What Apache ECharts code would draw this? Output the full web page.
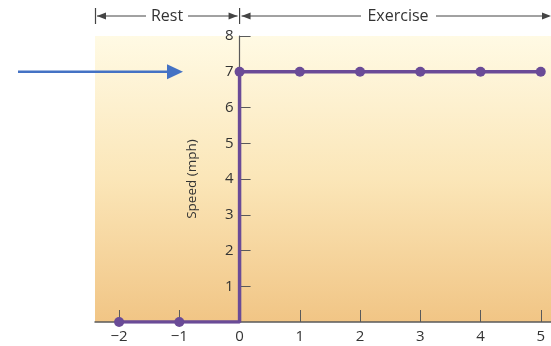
<!DOCTYPE html>
<html>
<head>
<meta charset="utf-8">
<script src="https://cdn.jsdelivr.net/npm/echarts@6/dist/echarts.min.js"></script>
<style>
  html, body { margin: 0; padding: 0; background: #ffffff; }
  #chart { width: 551px; height: 346px; }
</style>
</head>
<body>
<div id="chart"></div>
<script>
// Treadmill speed over time: rest period, then exercise at constant speed
const timeMin  = [-2, -1, 0, 0, 1, 2, 3, 4, 5];
const speedMph = [ 0,  0, 0, 7, 7, 7, 7, 7, 7];
const xTicks = [-2, -1, 0, 1, 2, 3, 4, 5];
const yTicks = [1, 2, 3, 4, 5, 6, 7, 8];
const phaseLabels = ['Rest', 'Exercise'];
const targetSpeed = 7;

const FONT = '"Open Sans", "DejaVu Sans", sans-serif';
const TEXT = '#333333';
const AXIS = '#5a5a5a';
const PURPLE = '#6a4b97';
const GRID_LEFT = 95;

const chart = echarts.init(document.getElementById('chart'), null, { renderer: 'canvas' });

// the corner point where speed jumps from 0 to 7 has no marker
const seriesData = timeMin.map((t, i) => {
  const item = { value: [t, speedMph[i]] };
  if (i === 2) item.symbol = 'none';
  return item;
});

const minus = v => String(v).replace('-', '\u2212');

chart.setOption({
  animation: false,
  grid: {
    left: GRID_LEFT, right: 0, top: 36, bottom: 24,
    show: true, borderWidth: 0,
    backgroundColor: new echarts.graphic.LinearGradient(0, 0, 0, 1, [
      { offset: 0, color: '#fffae4' },
      { offset: 0.5, color: '#fbe6b8' },
      { offset: 1, color: '#f1c585' }
    ])
  },
  xAxis: {
    type: 'value', min: -2.4, max: 5.17,
    splitLine: { show: false },
    axisLine: { onZero: false, lineStyle: { color: AXIS, width: 1.5 } },
    axisTick: { inside: true, length: 12, customValues: xTicks, lineStyle: { color: AXIS, width: 1 } },
    axisLabel: {
      customValues: xTicks, formatter: minus, margin: 7,
      color: TEXT, fontSize: 15, fontFamily: FONT
    }
  },
  yAxis: {
    type: 'value', min: 0, max: 8,
    splitLine: { show: false },
    name: 'Speed (mph)', nameLocation: 'middle', nameRotate: 90, nameGap: 40,
    nameTextStyle: { color: TEXT, fontSize: 13.5, fontFamily: FONT },
    axisLine: { onZero: false, lineStyle: { color: AXIS, width: 1.2 } },
    axisTick: { inside: true, length: 11, customValues: yTicks, lineStyle: { color: AXIS, width: 1 } },
    axisLabel: {
      customValues: yTicks, margin: 6,
      color: TEXT, fontSize: 15, fontFamily: FONT
    }
  },
  series: [{
    type: 'line',
    data: seriesData,
    symbol: 'circle', symbolSize: 10,
    showAllSymbol: true,
    lineStyle: { color: PURPLE, width: 3.5 },
    itemStyle: { color: PURPLE },
    z: 5
  }]
});

// place the speed axis on time = 0
const x0 = chart.convertToPixel({ xAxisIndex: 0 }, 0);
chart.setOption({ yAxis: { offset: -(x0 - GRID_LEFT) } });

// Annotations: phase brackets above the plot and the arrow pointing at the target speed
const yT = chart.convertToPixel({ yAxisIndex: 0 }, targetSpeed);
const left = GRID_LEFT, right = 551, by = 16;

function head(x, y, dir, w, h, color) {
  return { type: 'polygon', shape: { points: [[x, y], [x - dir * w, y - h / 2], [x - dir * w, y + h / 2]] }, style: { fill: color } };
}
function seg(x1, y1, x2, y2, color, width) {
  return { type: 'line', shape: { x1, y1, x2, y2 }, style: { stroke: color, lineWidth: width } };
}
function txt(x, y, s) {
  return { type: 'text', x, y, style: { text: s, fill: TEXT, fontSize: 16, fontFamily: FONT, align: 'center', verticalAlign: 'middle' } };
}

const bc = '#444444';
const restMid = 167;
const exMid = 398;
chart.setOption({
  graphic: [
    seg(left + 0.5, by - 8, left + 0.5, by + 8, bc, 1.2),
    seg(x0, by - 8, x0, by + 8, bc, 1.2),
    seg(left + 2, by, restMid - 21, by, bc, 1),
    head(left + 2, by, -1, 9, 7, bc),
    txt(restMid, by, phaseLabels[0]),
    seg(restMid + 21, by, x0 - 2, by, bc, 1),
    head(x0 - 2, by, 1, 9, 7, bc),
    seg(x0 + 2, by, exMid - 37, by, bc, 1),
    head(x0 + 2, by, -1, 9, 7, bc),
    txt(exMid, by, phaseLabels[1]),
    seg(exMid + 38, by, right - 2, by, bc, 1),
    head(right, by, 1, 9, 7, bc),
    seg(18, yT, 170, yT, '#4472c4', 2.5),
    head(183, yT, 1, 16, 15, '#4472c4')
  ]
});
</script>
</body>
</html>
